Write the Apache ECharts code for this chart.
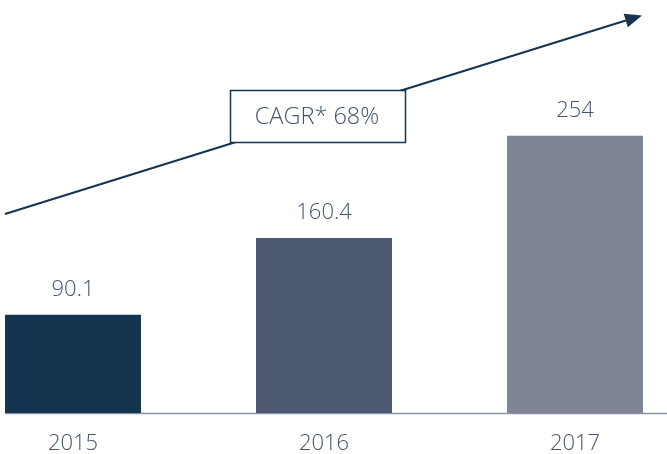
<!DOCTYPE html>
<html>
<head>
<meta charset="utf-8">
<script src="https://cdn.jsdelivr.net/npm/echarts@6/dist/echarts.min.js"></script>
<style>
  html, body { margin: 0; padding: 0; background: #fff; }
  #main { width: 667px; height: 454px; }
</style>
</head>
<body>
<div id="main"></div>
<script>
// 数据
var years = ["2015", "2016", "2017"];
var values = [90.1, 160.4, 254];
var barColors = ["#14344f", "#4d5970", "#7f8596"];
var cagrText = "CAGR* 68%";

var myChart = echarts.init(document.getElementById("main"));

var navy = "#14344f";
var textColor = "#44546a";
var font = "'Open Sans', 'Noto Sans', sans-serif";

// 箭头：从左下到右上
var x0 = 5, y0 = 214, x1 = 642, y1 = 15.5;
var len = Math.sqrt((x1 - x0) * (x1 - x0) + (y1 - y0) * (y1 - y0));
var ux = (x1 - x0) / len, uy = (y1 - y0) / len;
var bx = x1 - 17 * ux, by = y1 - 17 * uy;
var head = [
  [x1, y1],
  [bx - 7 * uy, by + 7 * ux],
  [bx + 7 * uy, by - 7 * ux]
];

myChart.setOption({
  animation: false,
  grid: {
    left: -52.5,
    right: -33.5,
    top: 20,
    bottom: 41,
    outerBoundsMode: "none"
  },
  xAxis: {
    type: "category",
    data: years,
    axisLine: { show: false },
    axisTick: { show: false },
    axisLabel: {
      interval: 0,
      margin: 20,
      color: textColor,
      fontSize: 22,
      fontWeight: 300,
      fontFamily: font
    }
  },
  yAxis: {
    type: "value",
    min: 0,
    max: 360,
    show: false
  },
  series: [
    {
      type: "bar",
      barWidth: 136,
      data: values.map(function (v, i) {
        return { value: v, itemStyle: { color: barColors[i] } };
      }),
      label: {
        show: true,
        position: "top",
        distance: 14,
        color: textColor,
        fontSize: 22,
        fontWeight: 300,
        fontFamily: font
      }
    }
  ],
  graphic: [
    // 底部轴线
    {
      type: "line",
      shape: { x1: 5, y1: 413.5, x2: 667, y2: 413.5 },
      style: { stroke: "#8a93a5", lineWidth: 1.5 },
      z: 1
    },
    {
      type: "line",
      shape: { x1: x0, y1: y0, x2: bx, y2: by },
      style: { stroke: navy, lineWidth: 2 },
      z: 5
    },
    {
      type: "polygon",
      shape: { points: head },
      style: { fill: navy },
      z: 5
    },
    {
      type: "rect",
      shape: { x: 230.5, y: 90.5, width: 175, height: 52 },
      style: { fill: "#fff", stroke: navy, lineWidth: 1.5 },
      z: 6
    },
    {
      type: "text",
      x: 317,
      y: 117,
      style: {
        text: cagrText,
        fill: textColor,
        fontSize: 23.5,
        fontWeight: 300,
        fontFamily: font,
        align: "center",
        verticalAlign: "middle"
      },
      z: 7
    }
  ]
});

window.addEventListener("resize", function () {
  myChart.resize();
});
</script>
</body>
</html>
